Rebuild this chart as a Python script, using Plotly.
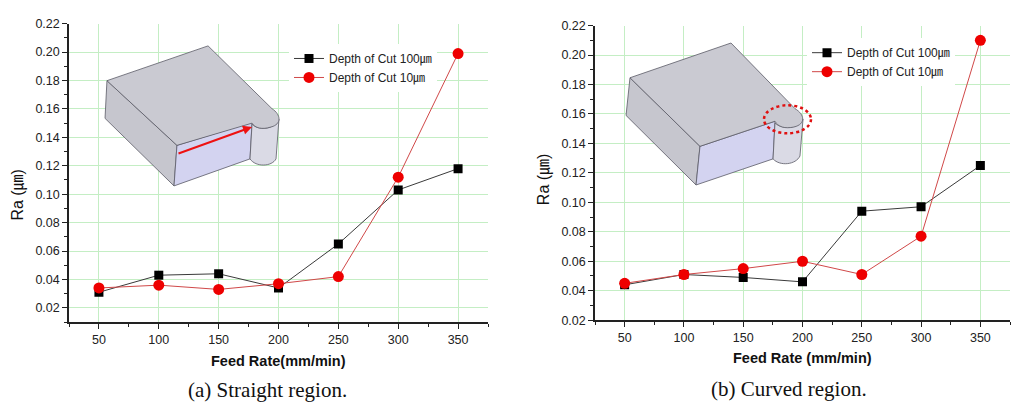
import plotly.graph_objects as go

# data
feed_rate = [50, 100, 150, 200, 250, 300, 350]
straight_100um = [0.031, 0.043, 0.044, 0.034, 0.065, 0.103, 0.118]
straight_10um = [0.034, 0.036, 0.033, 0.037, 0.042, 0.112, 0.199]
curved_100um = [0.044, 0.051, 0.049, 0.046, 0.094, 0.097, 0.125]
curved_10um = [0.045, 0.051, 0.055, 0.060, 0.051, 0.077, 0.210]

# page body has an 8px margin, so the figure is drawn 8px smaller and
# reference pixel positions are shifted by that much
OFF = 8
W, H = 1024 - OFF, 416 - OFF
FONT = 'Liberation Sans, Arial, Noto Sans CJK KR, sans-serif'
SERIF = 'Liberation Serif, Times New Roman, serif'


def px(x):
    return (x - OFF) / W


def py(y):
    return 1 - (y - OFF) / H


def pt(p):
    return f'{px(p[0]):.4f},{py(p[1]):.4f}'


def path(pts):
    return 'M ' + pt(pts[0]) + ''.join(' L ' + pt(p) for p in pts[1:]) + ' Z'


def cpath(cmds):
    # plotly only reads one point set per command letter, so repeat the letter
    out = []
    for c, pts in cmds:
        n = 3 if c == 'C' else 1
        for i in range(0, len(pts), n):
            out.append(c + ' ' + ' '.join(pt(p) for p in pts[i:i + n]))
    return ' '.join(out) + ' Z'


fig = go.Figure()

black_line = dict(color='#3a3a3a', width=1)
red_line = dict(color='#d04848', width=1)
sq = dict(symbol='square', size=9, color='black')
dot = dict(symbol='circle', size=11, color='#ee0000')

fig.add_trace(go.Scatter(x=feed_rate, y=straight_100um, mode='lines+markers', name='Depth of Cut 100㎛',
                         line=black_line, marker=sq, xaxis='x', yaxis='y', legend='legend'))
fig.add_trace(go.Scatter(x=feed_rate, y=straight_10um, mode='lines+markers', name='Depth of Cut 10㎛',
                         line=red_line, marker=dot, xaxis='x', yaxis='y', legend='legend'))
fig.add_trace(go.Scatter(x=feed_rate, y=curved_100um, mode='lines+markers', name='Depth of Cut 100㎛',
                         line=black_line, marker=sq, xaxis='x2', yaxis='y2', legend='legend2'))
fig.add_trace(go.Scatter(x=feed_rate, y=curved_10um, mode='lines+markers', name='Depth of Cut 10㎛',
                         line=red_line, marker=dot, xaxis='x2', yaxis='y2', legend='legend2'))

axis_common = dict(
    showline=True, linecolor='#222', linewidth=1.5, ticks='outside', ticklen=5, tickwidth=1.2,
    tickcolor='#222', showgrid=True, gridcolor='#c4eec4', gridwidth=1, zeroline=False,
    tickfont=dict(family=FONT, size=12.5, color='#222'),
)
xcommon = dict(axis_common, range=[25, 375], tick0=0, dtick=50,
               minor=dict(dtick=25, ticks='outside', ticklen=3, tickcolor='#222', showgrid=False))
ycommon = dict(axis_common, tick0=0, dtick=0.02, tickformat='.2f',
               minor=dict(dtick=0.01, ticks='outside', ticklen=3, tickcolor='#222', showgrid=False))

leg_common = dict(bgcolor='white', xanchor='left', yanchor='top', tracegroupgap=0,
                  font=dict(family=FONT, size=12, color='#222'), itemwidth=30)

fig.update_layout(
    width=W, height=H, margin=dict(l=0, r=0, t=0, b=0),
    paper_bgcolor='white', plot_bgcolor='white',
    xaxis=dict(xcommon, domain=[px(69), px(488)], anchor='y'),
    yaxis=dict(ycommon, domain=[py(326), py(17)], range=[0.01, 0.22], anchor='x'),
    xaxis2=dict(xcommon, domain=[px(595), px(1010)], anchor='y2'),
    yaxis2=dict(ycommon, domain=[py(324), py(19)], range=[0.02, 0.22], anchor='x2'),
    legend=dict(leg_common, x=px(289), y=py(38)),
    legend2=dict(leg_common, x=px(807), y=py(32)),
)

# axis titles and captions
texts = [
    ('Ra (㎛)', 18, 194, 16, -90, FONT),
    ('Ra (㎛)', 544, 178, 16, -90, FONT),
    ('<b>Feed Rate(mm/min)</b>', 278, 366, 14.5, 0, FONT),
    ('<b>Feed Rate (mm/min)</b>', 802, 363, 14.5, 0, FONT),
    ('(a) Straight region.', 267, 396, 21, 0, SERIF),
    ('(b) Curved region.', 789, 395, 21, 0, SERIF),
]
for t, x, y, size, ang, fam in texts:
    fig.add_annotation(text=t, x=px(x), y=py(y), xref='paper', yref='paper', showarrow=False,
                       textangle=ang, xanchor='center', yanchor='middle',
                       font=dict(family=fam, size=size, color='#111'))

# 3D workpiece insets drawn as shapes
edge = dict(color='#5a5a66', width=0.8)


def add_path(p, fill):
    fig.add_shape(type='path', path=p, xref='paper', yref='paper', fillcolor=fill, line=edge)


# left (straight region) block
add_path(path([(107, 76), (177, 143), (174, 185), (105, 115)]), '#c6c6ce')
add_path(path([(177, 143), (252, 119), (250, 157), (174, 185)]), '#d3d3f0')
add_path(cpath([('M', [(252, 121)]), ('C', [(257, 127), (273, 128), (279, 116)]),
                ('L', [(276, 157)]), ('C', [(272, 165), (256, 166), (250, 157)])]), '#dadae5')
add_path(cpath([('M', [(107, 76)]), ('L', [(208, 40), (272, 105)]),
                ('C', [(281, 111), (282, 121), (271, 124)]),
                ('C', [(262, 127), (255, 125), (252, 120)]), ('L', [(177, 143)])]), '#cacad2')
fig.add_annotation(x=px(252), y=py(124), xref='paper', yref='paper', ax=-75, ay=27, text='',
                   showarrow=True, arrowhead=2, arrowsize=0.9, arrowwidth=2, arrowcolor='#ee1111')

# right (curved region) block
add_path(path([(630, 73), (700, 144), (696, 184), (626, 112)]), '#c6c6ce')
add_path(path([(700, 144), (775, 118), (773, 157), (696, 184)]), '#d3d3f0')
add_path(cpath([('M', [(775, 120)]), ('C', [(781, 126), (797, 127), (803, 116)]),
                ('L', [(800, 154)]), ('C', [(796, 163), (780, 165), (773, 157)])]), '#dadae5')
add_path(cpath([('M', [(630, 73)]), ('L', [(731, 37), (795, 105)]),
                ('C', [(805, 111), (806, 121), (794, 124)]),
                ('C', [(785, 126), (778, 124), (775, 118)]), ('L', [(700, 144)])]), '#cacad2')
fig.add_shape(type='circle', xref='paper', yref='paper', x0=px(764), x1=px(811), y0=py(130.5), y1=py(101.5),
              line=dict(color='#e01010', width=2.5, dash='dot'))

fig.write_html('out.html')
